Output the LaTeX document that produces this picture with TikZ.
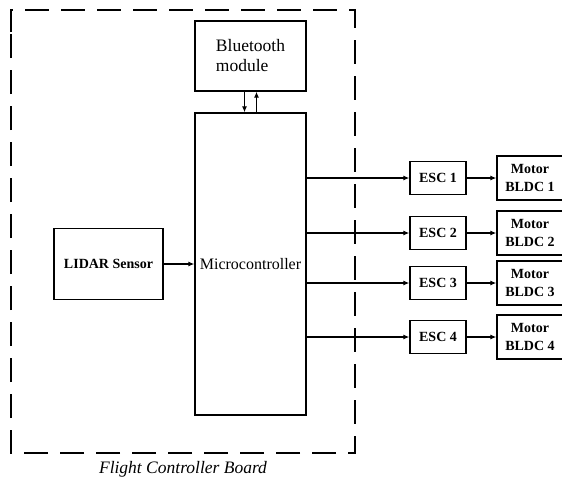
\documentclass[tikz,border=0pt]{standalone}
\usepackage{fontspec}
\setmainfont{Liberation Serif}
\usetikzlibrary{arrows.meta}
\begin{document}
\begin{tikzpicture}[x=1pt,y=-1pt,
  blk/.style={draw,line width=1.3pt,inner sep=0pt,font=\fontsize{14}{18}\selectfont\bfseries,align=center},
  conn/.style={line width=1.2pt,-{Latex[length=6pt,width=5pt]}},
  frame/.style={line width=1.6pt,dash pattern=on 24pt off 12pt}]
\useasboundingbox (0,0) rectangle (562,480);
\fill[white] (0,0) rectangle (562,480);
% frame
\draw[frame] (11,32) -- (11,10) -- (355,10) -- (355,453) -- (11,453) -- cycle;
\node[font=\fontsize{17.5}{20}\selectfont\itshape] (lbl) at (183,469) {Flight Controller Board};
% blocks
\node[blk,minimum width=111pt,minimum height=70pt,font=\fontsize{17.5}{20}\selectfont,align=left] (bt) at (250.5,56) {Bluetooth\\module};
\node[blk,minimum width=111pt,minimum height=302pt,font=\fontsize{16}{18}\selectfont] (mc) at (250.5,264) {Microcontroller};
\node[blk,minimum width=109pt,minimum height=71pt,font=\fontsize{14}{18}\selectfont\bfseries] (lidar) at (108.5,264) {LIDAR Sensor};
\foreach \i/\y in {1/178,2/233,3/283,4/337}{
  \node[blk,minimum width=56pt,minimum height=33pt] (esc\i) at (438,\y) {ESC \i};
  \node[blk,minimum width=66pt,minimum height=44pt] (mot\i) at (530,\y) {Motor\\BLDC \i};
  \draw[conn] (mc.east |- esc\i) -- (esc\i.west);
  \draw[conn] (esc\i.east) -- (mot\i.west);
}
\draw[conn] (lidar.east) -- (mc.west |- lidar);
\draw[conn] ([xshift=-6pt]bt.south) -- ([xshift=-6pt]mc.north);
\draw[conn] ([xshift=6pt]mc.north) -- ([xshift=6pt]bt.south);
\end{tikzpicture}
\end{document}
